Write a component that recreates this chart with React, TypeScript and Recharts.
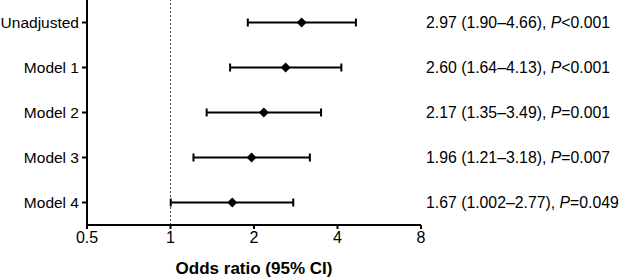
import { ScatterChart, Scatter, XAxis, YAxis, ErrorBar, ReferenceLine, Label } from "recharts"

// forest plot: adjusted odds ratios with 95% CI, log2 x axis
const models = ["Unadjusted", "Model 1", "Model 2", "Model 3", "Model 4"]
const oddsRatios = [2.97, 2.6, 2.17, 1.96, 1.67]
const ciLower = [1.9, 1.64, 1.35, 1.21, 1.002]
const ciUpper = [4.66, 4.13, 3.49, 3.18, 2.77]
const estimateText = [
  "2.97 (1.90–4.66)",
  "2.60 (1.64–4.13)",
  "2.17 (1.35–3.49)",
  "1.96 (1.21–3.18)",
  "1.67 (1.002–2.77)",
]
const pText = ["<0.001", "<0.001", "=0.001", "=0.007", "=0.049"]
const xTicks = [0.5, 1, 2, 4, 8]

const FONT = "'Liberation Sans', Arial, sans-serif"

const rows = models.map((name, i) => ({
  name,
  or: oddsRatios[i],
  err: [oddsRatios[i] - ciLower[i], ciUpper[i] - oddsRatios[i]],
  label: i,
}))

function Diamond({ cx, cy }: { cx?: number; cy?: number }) {
  if (cx == null || cy == null) return null
  const r = 5
  return (
    <polygon
      points={`${cx - r},${cy} ${cx},${cy - r} ${cx + r},${cy} ${cx},${cy + r}`}
      fill="#000"
    />
  )
}

function ResultTick({ x, y, payload }: { x?: number; y?: number; payload?: { value: number } }) {
  const i = payload?.value ?? 0
  return (
    <text x={x} y={y} dy={5} textAnchor="start" fontSize={15.8} fontFamily={FONT} fill="#000">
      <tspan>{estimateText[i]}, </tspan>
      <tspan fontStyle="italic">P</tspan>
      <tspan>{pText[i]}</tspan>
    </text>
  )
}

export default function App() {
  return (
    <div style={{ width: 622, height: 278, background: "#fff" }}>
      <style>{`body{margin:0}`}</style>
      <ScatterChart width={622} height={278} margin={{ top: 0, right: 0, bottom: 0, left: 0 }}>
        <XAxis
          dataKey="or"
          type="number"
          scale="log"
          domain={[0.5, 8]}
          ticks={xTicks}
          allowDataOverflow
          height={53}
          stroke="#000"
          strokeWidth={2}
          tickSize={4}
          tickMargin={3}
          tick={{ fill: "#000", fontSize: 16, fontFamily: FONT }}
        >
          <Label
            value="Odds ratio (95% CI)"
            position="insideBottom"
            offset={4}
            fill="#000"
            fontSize={17}
            fontWeight="bold"
            fontFamily={FONT}
          />
        </XAxis>
        <YAxis
          yAxisId="l"
          dataKey="name"
          type="category"
          reversed
          allowDuplicatedCategory={false}
          width={87}
          stroke="#000"
          strokeWidth={2}
          tickSize={5}
          tickMargin={3}
          tick={{ fill: "#000", fontSize: 15.5, fontFamily: FONT }}
        />
        <YAxis
          yAxisId="r"
          orientation="right"
          dataKey="label"
          type="category"
          reversed
          allowDuplicatedCategory={false}
          width={201}
          axisLine={false}
          tickLine={false}
          tickSize={0}
          tickMargin={5}
          tick={<ResultTick />}
        />
        <ReferenceLine yAxisId="l" x={1} stroke="#444" strokeDasharray="2 2" strokeWidth={1} />
        <Scatter yAxisId="r" data={rows} shape={() => <g />} isAnimationActive={false} />
        <Scatter yAxisId="l" data={rows} shape={<Diamond />} isAnimationActive={false}>
          <ErrorBar dataKey="err" direction="x" width={4} strokeWidth={2} stroke="#000" />
        </Scatter>
      </ScatterChart>
    </div>
  )
}
